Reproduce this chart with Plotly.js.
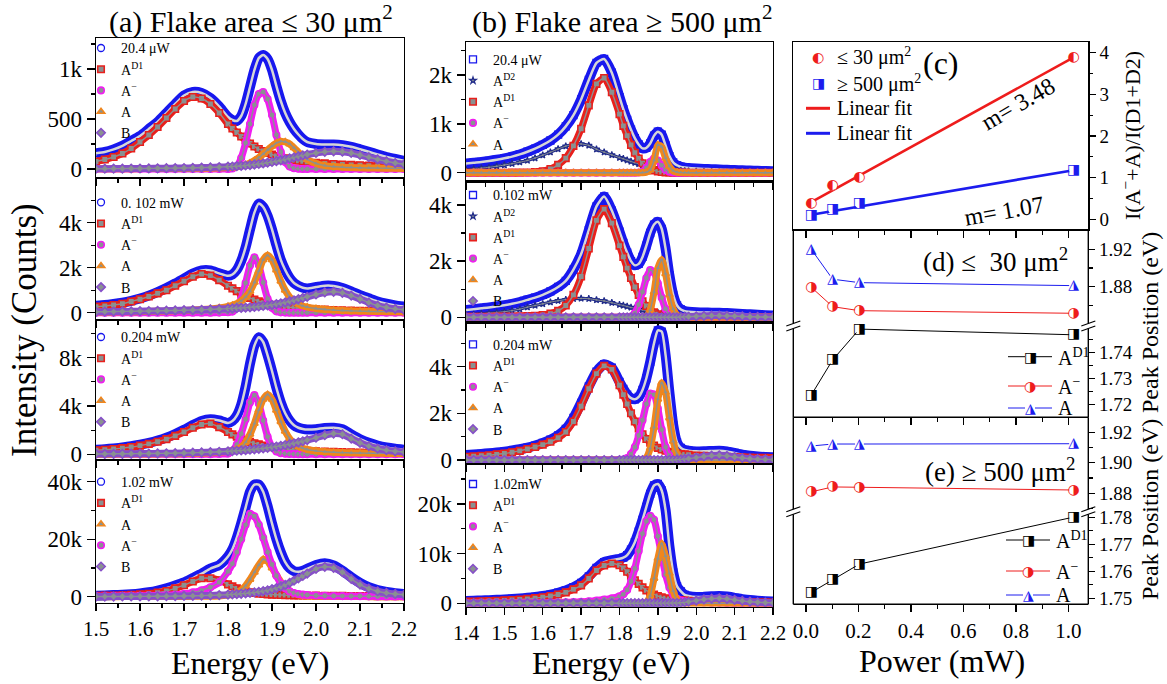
<!DOCTYPE html>
<html><head><meta charset="utf-8">
<script src="https://cdn.plot.ly/plotly-3.0.1.min.js"></script>
<style>html,body{margin:0;padding:0;background:#fff}</style>
</head><body>
<div id="chart" style="width:1167px;height:684px"></div>
<script>
// ---------------- DATA ----------------
// column (a) energy grid (eV)
const xa = [1.50,1.52,1.54,1.56,1.58,1.60,1.62,1.64,1.66,1.68,1.70,1.72,1.74,1.76,1.78,
 1.80,1.81,1.82,1.83,1.84,1.85,1.86,1.87,1.88,1.89,1.90,1.91,1.92,1.93,1.94,1.95,1.96,1.97,
 1.98,2.00,2.02,2.04,2.06,2.08,2.10,2.12,2.14,2.16,2.18,2.20];
// (a) 20.4 uW
const a1Total = [158,170,196,232,280,330,400,470,560,650,735,770,760,710,625,
 520,490,480,530,650,820,990,1110,1140,1100,990,830,680,560,470,400,345,300,
 270,250,245,245,238,222,198,172,145,120,100,82];
const a1AD1 = [75,95,120,155,205,270,340,420,510,600,680,720,705,650,560,
 450,405,365,325,290,255,225,200,180,160,145,130,118,108,98,90,83,77,
 72,63,56,50,45,41,37,34,31,29,27,25];
const a1Am = [0,0,0,0,0,0,0,0,0,0,0,0,0,0,0,
 0,5,30,110,260,450,640,750,770,700,540,340,170,70,25,8,2,0,
 0,0,0,0,0,0,0,0,0,0,0,0];
const a1A = [2,2,3,3,3,4,4,4,5,5,5,6,7,8,10,
 14,17,22,30,42,60,85,115,150,190,228,258,275,272,250,212,168,128,
 96,55,34,24,18,15,12,10,9,8,7,6];
const a1B = [3,3,4,4,5,5,6,7,8,9,10,12,14,16,19,
 23,25,28,31,35,39,44,50,56,63,70,78,87,96,106,116,126,136,
 145,160,172,177,173,160,140,118,96,77,60,47];
// (a) 0.102 mW
const a2Total = [310,340,390,450,530,630,760,920,1100,1300,1520,1740,1880,1880,1750,
 1640,1700,1900,2300,2900,3700,4450,4850,4700,4300,3700,3000,2350,1900,1550,1320,1190,1110,
 1080,1140,1200,1190,1100,950,780,640,500,400,320,270];
const a2AD1 = [270,300,345,400,500,600,720,860,1000,1200,1400,1600,1720,1650,1450,
 1200,1080,960,850,750,660,580,510,450,400,355,320,290,262,240,220,203,188,
 175,153,135,120,108,98,89,81,74,68,63,58];
const a2Am = [0,0,0,0,0,0,0,0,0,0,0,0,0,0,5,
 20,50,210,610,1320,2100,2460,2120,1340,620,220,60,15,4,0,0,0,0,
 0,0,0,0,0,0,0,0,0,0,0,0];
const a2A = [30,32,35,40,45,50,57,65,75,87,100,118,140,170,215,
 280,330,400,520,700,950,1350,1850,2350,2550,2350,1900,1400,1000,700,500,380,300,
 250,185,145,115,95,80,70,60,52,46,40,36];
const a2B = [40,45,50,55,60,67,74,82,90,100,110,120,132,146,162,
 180,190,200,212,225,240,257,276,298,323,350,382,418,458,502,550,602,655,
 708,810,900,930,880,760,610,450,320,230,170,130];
// (a) 0.204 mW
const a3Total = [370,420,490,570,670,800,950,1140,1380,1680,2030,2420,2760,2900,2800,
 2600,2750,3200,4100,5600,7500,9000,9700,9300,8200,6900,5500,4300,3400,2800,2400,2200,2100,
 2050,2080,2180,2200,2080,1650,1250,950,730,570,460,380];
const a3AD1 = [330,380,440,510,600,720,860,1040,1260,1530,1850,2200,2470,2540,2250,
 1850,1650,1460,1300,1160,1030,920,820,735,660,595,540,490,445,405,370,340,314,
 293,258,229,205,185,168,153,140,129,120,111,104];
const a3Am = [0,0,0,0,0,0,0,0,0,0,0,0,0,10,20,
 60,300,800,1700,2900,4300,4900,4200,2800,1450,620,240,95,45,25,15,10,8,
 6,5,4,3,3,2,2,2,1,1,1,1];
const a3A = [10,12,14,17,20,24,29,35,42,50,60,75,95,125,170,
 240,300,400,600,1000,1650,2550,3650,4550,4950,4550,3650,2700,1900,1300,900,650,500,
 400,280,215,170,140,120,105,92,82,73,66,60];
const a3B = [30,34,38,43,49,56,64,73,84,97,112,130,152,178,210,
 248,270,294,320,348,380,415,453,495,540,590,645,705,770,840,915,995,1080,
 1170,1370,1580,1720,1660,1300,950,680,480,340,250,190];
// (a) 1.02 mW
const a4Total = [350,450,560,700,880,1150,1550,2150,2950,3900,5000,6500,8000,9800,11000,
 14000,16500,20500,25500,31000,36500,39000,39000,36500,31500,25500,20000,15500,12000,9900,8900,8700,9000,
 9700,11000,11600,10900,9100,6800,4800,3300,2300,1650,1200,900];
const a4AD1 = [300,360,430,510,620,800,1050,1400,2000,2900,4000,5300,6400,6400,5700,
 4300,3600,2900,2350,1900,1550,1280,1080,930,820,730,660,600,550,510,475,445,420,
 398,360,328,300,277,257,239,223,209,197,186,176];
const a4A = [20,22,25,28,32,36,42,50,60,75,100,120,150,190,260,
 550,800,1300,2300,3800,6000,8500,11000,13000,12300,10000,7600,5200,3300,2000,1150,650,380,
 250,130,80,55,42,35,30,26,23,21,19,17];
const a4Am = [150,170,195,225,260,305,360,430,520,640,1000,1500,2200,3300,5000,
 8800,11500,15500,20000,25000,28800,28000,25000,20500,15500,11200,7300,4600,2900,1900,1300,950,720,
 580,410,310,245,200,165,140,120,105,92,82,73];
const a4B = [40,50,60,70,85,100,120,145,175,210,255,310,375,455,555,
 700,800,900,1020,1150,1300,1470,1680,1920,2220,2600,3000,3500,4100,4800,5600,6400,7200,
 8000,9700,10400,10000,8500,6200,4200,2800,1900,1300,950,700];

// column (b) energy grid (eV)
const xb = [1.40,1.42,1.44,1.46,1.48,1.50,1.52,1.54,1.56,1.58,1.60,1.62,1.64,1.66,1.68,1.70,1.72,1.74,1.76,1.78,1.80,
 1.81,1.82,1.83,1.84,1.85,1.86,1.87,1.88,1.89,1.90,1.91,1.92,1.93,1.94,1.95,1.96,1.97,
 1.98,2.00,2.02,2.04,2.06,2.08,2.10,2.12,2.14,2.16,2.18,2.20];
// (b) 20.4 uW
const b1Total = [190,205,220,240,265,295,330,375,430,495,570,660,780,950,1180,1500,1900,2250,2330,2050,1550,
 1300,1080,880,710,580,500,510,600,760,840,780,560,340,210,150,120,105,
 95,85,78,72,66,60,55,50,45,40,35,30];
const b1AD2 = [60,75,92,110,132,157,185,215,250,300,360,420,485,545,585,590,560,480,420,365,310,
 285,255,230,205,180,158,138,120,104,90,78,68,59,51,45,40,35,
 31,25,20,16,13,11,9,8,7,6,5,5];
const b1AD1 = [0,0,0,0,0,0,1,2,5,12,30,75,160,300,550,900,1380,1820,1940,1650,1200,
 960,760,570,410,290,195,125,80,48,28,15,8,4,2,1,0,0,
 0,0,0,0,0,0,0,0,0,0,0,0];
const b1Am = [0,0,0,0,0,0,0,0,0,0,0,0,0,0,0,0,0,0,0,0,0,
 0,0,0,0,5,20,100,220,290,250,150,60,20,5,0,0,0,
 0,0,0,0,0,0,0,0,0,0,0,0];
const b1A = [0,0,0,0,0,0,0,0,0,0,0,0,0,0,0,0,0,0,0,0,0,
 0,0,0,0,0,0,10,60,250,570,530,300,130,40,10,2,0,
 0,0,0,0,0,0,0,0,0,0,0,0];
// (b) 0.102 mW
const b2Total = [260,290,320,350,390,430,480,540,620,700,800,920,1080,1300,1700,2250,3100,3950,4300,3800,3050,
 2650,2300,2000,1850,1900,2150,2550,3000,3300,3400,3150,2450,1500,800,420,280,220,
 200,180,170,165,160,150,135,120,105,90,75,60];
const b2AD2 = [80,100,125,150,175,200,240,290,360,420,480,540,590,630,660,670,660,620,580,520,450,
 420,385,350,320,290,260,235,210,185,165,145,128,112,98,85,74,64,
 56,42,32,25,20,16,13,11,9,8,7,6];
const b2AD1 = [15,17,19,21,24,27,31,36,43,55,80,130,230,420,800,1450,2450,3450,3850,3350,2550,
 2150,1750,1400,1080,800,570,400,270,175,110,65,38,20,10,5,2,0,
 0,0,0,0,0,0,0,0,0,0,0,0];
const b2Am = [0,0,0,0,0,0,0,0,0,0,0,0,0,0,0,0,0,0,0,0,0,
 0,10,30,150,450,900,1400,1680,1600,1200,700,300,100,30,8,0,0,
 0,0,0,0,0,0,0,0,0,0,0,0];
const b2A = [0,0,0,0,0,0,0,0,0,0,0,0,0,0,0,0,0,0,0,0,0,
 0,0,0,0,0,5,30,250,900,1750,2050,1550,800,300,80,20,5,
 0,0,0,0,0,0,0,0,0,0,0,0];
const b2B = [0,0,0,0,0,0,0,0,0,0,0,0,0,0,0,0,0,0,0,0,0,
 0,0,0,0,0,0,0,0,0,0,0,0,0,0,0,10,15,
 20,35,50,60,60,50,40,30,20,15,10,8];
// (b) 0.204 mW
const b3Total = [210,235,260,290,320,360,405,460,530,620,730,870,1050,1330,1800,2450,3150,3780,4100,3950,3350,
 3050,2800,2650,2600,2700,3000,3500,4200,5000,5550,5500,4500,2900,1500,750,520,430,
 400,370,370,385,400,370,300,230,180,150,130,115];
const b3AD1 = [140,160,180,205,240,280,330,390,470,560,660,780,950,1200,1650,2300,3050,3700,4030,3880,3200,
 2800,2400,2000,1650,1350,1100,900,740,620,520,450,395,350,315,285,260,240,
 222,195,175,158,144,132,122,113,105,98,92,86];
const b3Am = [0,0,0,0,0,0,0,0,0,0,0,0,0,0,0,0,0,0,0,0,5,
 20,80,250,550,1050,1700,2400,2850,2800,2200,1300,550,180,50,10,0,0,
 0,0,0,0,0,0,0,0,0,0,0,0];
const b3A = [0,0,0,0,0,0,0,0,0,0,0,0,0,0,0,0,0,0,0,0,0,
 0,0,0,0,0,20,100,500,1400,2600,3300,2900,1800,800,250,60,15,
 5,0,0,0,0,0,0,0,0,0,0,0];
const b3B = [0,0,0,0,0,0,0,0,0,0,0,0,0,0,0,0,0,0,0,0,0,
 0,0,0,0,0,0,0,0,0,0,0,0,0,0,15,25,40,
 60,100,150,185,200,175,130,85,55,35,25,18];
// (b) 1.02 mW
const b4Total = [470,520,570,630,700,780,870,980,1110,1280,1490,1760,2120,2600,3250,4100,5400,7100,8300,8700,8950,
 9200,9700,10800,12300,14400,16800,19400,22000,23700,24000,22700,18800,11500,6200,3400,2400,1700,
 1450,1250,1300,1400,1450,1350,1100,850,650,520,420,350];
const b4AD1 = [330,370,410,460,520,590,670,770,890,1040,1230,1470,1780,2200,2800,3600,5000,6600,7600,8000,7650,
 7100,6350,5500,4650,3900,3200,2600,2150,1780,1470,1220,1020,870,760,670,600,540,
 490,420,370,330,296,268,244,224,206,191,178,166];
const b4Am = [30,35,40,46,53,61,70,80,92,106,122,142,166,196,233,280,400,550,750,1000,1400,
 1800,2700,4400,7000,10500,14000,16500,17600,16800,13500,9500,5800,3200,1700,900,560,400,
 320,220,160,120,95,75,60,50,42,36,31,27];
const b4A = [0,0,0,0,0,0,0,0,0,0,0,0,0,0,0,0,0,0,0,0,0,
 0,0,0,0,0,20,200,1500,5000,9000,12000,9500,6000,2500,700,150,30,
 0,0,0,0,0,0,0,0,0,0,0,0];
const b4B = [20,20,20,20,20,20,20,20,20,20,20,20,20,20,20,20,20,20,20,20,20,
 20,20,20,20,20,22,24,26,28,30,35,40,45,50,60,100,180,
 300,550,800,950,1000,900,700,480,320,210,140,100];

// column (c)-(e)
const powerMW = [0.0204, 0.102, 0.204, 1.02];
const ratioSmall = [0.38, 0.80, 1.01, 3.89];
const ratioLarge = [0.09, 0.24, 0.37, 1.18];
const fitX = [0.0204, 1.02];
const fitSmall = [0.41, 3.89];
const fitLarge = [0.11, 1.18];
const dA = [1.920, 1.888, 1.8843, 1.8811];
const dAm = [1.8794, 1.8586, 1.8543, 1.8515];
const dAD1 = [1.7236, 1.7372, 1.7491, 1.7469];
const eA = [1.9110, 1.9123, 1.9123, 1.9125];
const eAm = [1.8810, 1.8842, 1.8840, 1.8822];
const eAD1 = [1.7522, 1.7568, 1.7627, 1.7801];

// ---------------- LAYOUT HELPERS ----------------
const W = 1167, H = 684;
const PX = p => p / W, PY = p => 1 - p / H;
const SERIF = '"Liberation Serif", "Times New Roman", serif';
const GLYPH = '"DejaVu Sans", sans-serif';
const C = {data:'#1818ee', ad1:'#e8201c', am:'#f01ef0', a:'#f0861c', b:'#8650c8', ad2:'#1f2a8a',
           center:'#8a9191', fit:'#d6d6d6', red:'#ee1c1c', blue:'#1c1cee'};
const SYM = {ad1:'square', am:'circle', a:'triangle-up', b:'diamond', ad2:'star'};
const BAND = {ad1:7, am:7, a:7, b:7, ad2:3};
const MSIZE = {ad1:6.5, am:6.5, a:6.5, b:6.5, ad2:5};

const traces = [];
const layout = {
  width: W, height: H, margin:{l:0,r:0,t:0,b:0}, autosize:false,
  paper_bgcolor:'#fff', plot_bgcolor:'rgba(0,0,0,0)',
  font:{family:SERIF, color:'#000'}, showlegend:true,
  annotations:[], shapes:[]
};
const an = (i) => i === 1 ? '' : String(i);

function addData(i, x, y, name, symbol, leg) {
  const xa_ = 'x' + an(i), ya_ = 'y' + an(i);
  traces.push({type:'scatter', x, y, xaxis:xa_, yaxis:ya_, mode:'lines',
    line:{color:C.data, width:10, shape:'spline', smoothing:0.6}, showlegend:false, hoverinfo:'skip'});
  traces.push({type:'scatter', x, y, xaxis:xa_, yaxis:ya_, mode:'markers',
    marker:{symbol, size:7, color:C.data, line:{color:C.data, width:1.3}}, name, legend:leg, hoverinfo:'skip'});
  traces.push({type:'scatter', x, y, xaxis:xa_, yaxis:ya_, mode:'lines',
    line:{color:C.fit, width:2.5, shape:'spline', smoothing:0.6}, showlegend:false, hoverinfo:'skip'});
}
function addComp(i, x, y, name, key, leg) {
  const xa_ = 'x' + an(i), ya_ = 'y' + an(i);
  const col = C[key];
  traces.push({type:'scatter', x, y, xaxis:xa_, yaxis:ya_, mode:'lines',
    line:{color:col, width:BAND[key], shape:'spline', smoothing:0.6}, showlegend:false, hoverinfo:'skip'});
  traces.push({type:'scatter', x, y, xaxis:xa_, yaxis:ya_, mode:'markers',
    marker:{symbol:SYM[key], size:MSIZE[key], color:C.center, line:{color:col, width:key === 'ad2' ? 1.2 : 1.6}}, name, legend:leg, hoverinfo:'skip'});
  traces.push({type:'scatter', x, y, xaxis:xa_, yaxis:ya_, mode:'lines',
    line:{color:C.center, width:key === 'ad2' ? 1 : 1.4, shape:'spline', smoothing:0.6}, showlegend:false, hoverinfo:'skip'});
}

const colA = [96, 404], colB = [466, 773], colC = [793.3, 1088.3];
const panels = [
 {i:1, x:xa, col:colA, top:38, bot:178, yr:[-90,1310], dt:500, mdt:250, xr:[1.5,2.2], lab:false, leg:'legend', lx:81, ly:48, sym:'circle-open',
  data:['20.4 μW', a1Total], comps:[['A<sup>D1</sup>',a1AD1,'ad1'],['A<sup>−</sup>',a1Am,'am'],['A',a1A,'a'],['B',a1B,'b']]},
 {i:2, x:xa, col:colA, top:178, bot:320, yr:[-324,5987], dt:2000, mdt:1000, xr:[1.5,2.2], lab:false, leg:'legend2', lx:81, ly:202.3, sym:'circle-open',
  data:['0. 102 mW', a2Total], comps:[['A<sup>D1</sup>',a2AD1,'ad1'],['A<sup>−</sup>',a2Am,'am'],['A',a2A,'a'],['B',a2B,'b']]},
 {i:3, x:xa, col:colA, top:320, bot:460, yr:[-472,11122], dt:4000, mdt:2000, xr:[1.5,2.2], lab:false, leg:'legend3', lx:81, ly:337, sym:'circle-open',
  data:['0.204 mW', a3Total], comps:[['A<sup>D1</sup>',a3AD1,'ad1'],['A<sup>−</sup>',a3Am,'am'],['A',a3A,'a'],['B',a3B,'b']]},
 {i:4, x:xa, col:colA, top:460, bot:602.7, yr:[-2087,47548], dt:20000, mdt:10000, xr:[1.5,2.2], lab:true, leg:'legend4', lx:81, ly:481.7, sym:'circle-open',
  data:['1.02 mW', a4Total], comps:[['A<sup>D1</sup>',a4AD1,'ad1'],['A',a4A,'a'],['A<sup>−</sup>',a4Am,'am'],['B',a4B,'b']]},
 {i:5, x:xb, col:colB, top:42.3, bot:181.7, yr:[-184,2672], dt:1000, mdt:500, xr:[1.4,2.2], lab:false, leg:'legend5', lx:453, ly:59.3, sym:'square-open',
  data:['20.4 μW', b1Total], comps:[['A<sup>D2</sup>',b1AD2,'ad2'],['A<sup>D1</sup>',b1AD1,'ad1'],['A<sup>−</sup>',b1Am,'am'],['A',b1A,'a']]},
 {i:6, x:xb, col:colB, top:181.7, bot:322.7, yr:[-192,4826], dt:2000, mdt:1000, xr:[1.4,2.2], lab:false, leg:'legend6', lx:453, ly:195, sym:'square-open',
  data:['0.102 mW', b2Total], comps:[['A<sup>D2</sup>',b2AD2,'ad2'],['A<sup>D1</sup>',b2AD1,'ad1'],['A<sup>−</sup>',b2Am,'am'],['A',b2A,'a'],['B',b2B,'b']]},
 {i:7, x:xb, col:colB, top:322.7, bot:464, yr:[-171,5880], dt:2000, mdt:1000, xr:[1.4,2.2], lab:false, leg:'legend7', lx:453, ly:344.3, sym:'square-open',
  data:['0.204 mW', b3Total], comps:[['A<sup>D1</sup>',b3AD1,'ad1'],['A<sup>−</sup>',b3Am,'am'],['A',b3A,'a'],['B',b3B,'b']]},
 {i:8, x:xb, col:colB, top:464, bot:606.7, yr:[-684,28028], dt:10000, mdt:5000, xr:[1.4,2.2], lab:true, leg:'legend8', lx:453, ly:484, sym:'square-open',
  data:['1.02mW', b4Total], comps:[['A<sup>D1</sup>',b4AD1,'ad1'],['A<sup>−</sup>',b4Am,'am'],['A',b4A,'a'],['B',b4B,'b']]}
];

const tickBase = {ticks:'outside', tickwidth:1.3, tickcolor:'#000', showgrid:false, zeroline:false,
  showline:true, linecolor:'#000', linewidth:1.4, mirror:true, fixedrange:true};

panels.forEach(p => {
  layout['xaxis' + an(p.i)] = Object.assign({}, tickBase, {
    domain:[PX(p.col[0]), PX(p.col[1])], range:p.xr, anchor:'y' + an(p.i),
    tickmode:'linear', tick0:p.xr[0], dtick:0.1, ticklen:7,
    minor:{tickmode:'linear', tick0:p.xr[0], dtick:0.05, ticks:'outside', ticklen:4, tickwidth:1.2, tickcolor:'#000'},
    showticklabels:p.lab, tickformat:'.1f', tickfont:{family:SERIF, size:21, color:'#000'}
  });
  layout['yaxis' + an(p.i)] = Object.assign({}, tickBase, {
    domain:[PY(p.bot), PY(p.top)], range:p.yr, anchor:'x' + an(p.i),
    tickmode:'linear', tick0:0, dtick:p.dt, ticklen:8,
    minor:{tickmode:'linear', tick0:0, dtick:p.mdt, ticks:'outside', ticklen:4, tickwidth:1.2, tickcolor:'#000'},
    tickformat:'~s', tickfont:{family:SERIF, size:23, color:'#000'}
  });
  layout[p.leg] = {x:PX(p.lx), y:PY(p.ly - 15.6), xanchor:'left', yanchor:'top',
    bgcolor:'rgba(0,0,0,0)', borderwidth:0, itemwidth:30, tracegroupgap:0,
    font:{family:SERIF, size:14, color:'#000'}, itemclick:false, itemdoubleclick:false};
  addData(p.i, p.x, p.data[1], p.data[0], p.sym, p.leg);
  p.comps.forEach(c => addComp(p.i, p.x, c[1], c[0], c[2], p.leg));
});

// ---- column (c)-(e) axes ----
const cxr = [-0.048, 1.076];
const xc = (i, opts) => Object.assign({}, tickBase, {
  domain:[PX(colC[0]), PX(colC[1])], range:cxr, anchor:'y'+i,
  tickmode:'linear', tick0:0, dtick:0.2, ticklen:7,
  minor:{tickmode:'linear', tick0:0, dtick:0.1, ticks:'outside', ticklen:4, tickwidth:1.2, tickcolor:'#000'},
  showticklabels:false, tickformat:'.1f', tickfont:{family:SERIF, size:21, color:'#000'}
}, opts);
const yc = (i, top, bot, range, tv, mv, opts) => Object.assign({}, tickBase, {
  domain:[PY(bot), PY(top)], range, anchor:'x'+i, side:'right',
  tickmode:'array', tickvals:tv, ticktext:tv.map(v => v.toFixed(2)), ticklen:6,
  minor:{tickmode:'array', tickvals:mv, ticks:'outside', ticklen:3.5, tickwidth:1.2, tickcolor:'#000'},
  tickfont:{family:SERIF, size:19, color:'#000'}, showline:false, mirror:false
}, opts);

layout.xaxis9 = xc(9, {});
layout.yaxis9 = Object.assign({}, tickBase, {
  domain:[PY(229.3), PY(42.3)], range:[-0.24, 4.25], anchor:'x9', side:'right',
  tickmode:'linear', tick0:0, dtick:1, ticklen:6,
  minor:{tickmode:'linear', tick0:0, dtick:0.5, ticks:'outside', ticklen:3.5, tickwidth:1.2, tickcolor:'#000'},
  tickfont:{family:SERIF, size:19, color:'#000'}
});
layout.xaxis10 = xc(10, {visible:false});
layout.yaxis10 = yc(10, 229.3, 326, [1.8379, 1.9414], [1.88, 1.92], [1.86, 1.90]);
layout.xaxis11 = xc(11, {showline:false, mirror:false});
layout.yaxis11 = yc(11, 326, 417.3, [1.715, 1.7503], [1.72, 1.73, 1.74], [1.725, 1.735, 1.745]);
layout.xaxis12 = xc(12, {visible:false});
layout.yaxis12 = yc(12, 417.3, 511.7, [1.868, 1.9298], [1.88, 1.90, 1.92], [1.87, 1.89, 1.91]);
layout.xaxis13 = xc(13, {showline:false, mirror:false, showticklabels:true});
layout.yaxis13 = yc(13, 511.7, 604.3, [1.7478, 1.7821], [1.75, 1.76, 1.77, 1.78], [1.755, 1.765, 1.775]);

// ---- (c) traces ----
traces.push({type:'scatter', x:fitX, y:fitSmall, xaxis:'x9', yaxis:'y9', mode:'lines', line:{color:C.red, width:2.6}, showlegend:false, hoverinfo:'skip'});
traces.push({type:'scatter', x:fitX, y:fitLarge, xaxis:'x9', yaxis:'y9', mode:'lines', line:{color:C.blue, width:2.6}, showlegend:false, hoverinfo:'skip'});
function glyphPts(xaxis, yaxis, x, y, glyph, color, lineW) {
  traces.push({type:'scatter', x, y, xaxis, yaxis, mode: lineW ? 'lines+markers+text' : 'markers+text',
    line:{color, width:lineW || 0}, marker:{size:9, color:'#fff', line:{width:0}},
    text:x.map(() => glyph), textposition:'middle center',
    textfont:{family:GLYPH, size:14, color}, cliponaxis:false, showlegend:false, hoverinfo:'skip'});
}
glyphPts('x9','y9', powerMW, ratioSmall, '◐', C.red, 0);
glyphPts('x9','y9', powerMW, ratioLarge, '◨', C.blue, 0);
// ---- (d) ----
glyphPts('x10','y10', powerMW, dA, '◮', C.blue, 1);
glyphPts('x10','y10', powerMW, dAm, '◑', C.red, 1);
glyphPts('x11','y11', powerMW, dAD1, '◨', '#000', 1);
// ---- (e) ----
glyphPts('x12','y12', powerMW, eA, '◮', C.blue, 1);
glyphPts('x12','y12', powerMW, eAm, '◑', C.red, 1);
glyphPts('x13','y13', powerMW, eAD1, '◨', '#000', 1);

// ---- shapes ----
function seg(x0, y0, x1, y1, color, width) {
  layout.shapes.push({type:'line', xref:'paper', yref:'paper', x0:PX(x0), y0:PY(y0), x1:PX(x1), y1:PY(y1), line:{color, width}});
}
const cl = colC[0], cr = colC[1];
seg(cl, 417.3, cr, 417.3, '#000', 1.4);
seg(cl, 604.3, cr, 604.3, '#000', 1.4);
[[229.3, 326, 417.3], [417.3, 511.7, 604.3]].forEach(([top, brk, bot]) => {
  [cl, cr].forEach(x => {
    seg(x, top, x, brk - 2.5, '#000', 1.4);
    seg(x, brk + 2.5, x, bot, '#000', 1.4);
    seg(x - 7, brk, x + 7, brk - 5, '#000', 1.2);
    seg(x - 7, brk + 5, x + 7, brk, '#000', 1.2);
  });
});

// ---- annotations ----
function ann(x, y, text, size, opts) {
  layout.annotations.push(Object.assign({xref:'paper', yref:'paper', x:PX(x), y:PY(y), text, showarrow:false,
    font:{family:SERIF, size, color:'#000'}, xanchor:'center', yanchor:'middle'}, opts || {}));
}
ann(251, 19, '(a) Flake area ≤ 30 μm<sup>2</sup>', 30);
ann(622, 19, '(b) Flake area ≥ 500 μm<sup>2</sup>', 30);
ann(25, 330, 'Intensity (Counts)', 35, {textangle:-90});
ann(250, 663, 'Energy (eV)', 32);
ann(611, 663, 'Energy (eV)', 32);
ann(942, 661, 'Power (mW)', 32);
ann(1131, 136, 'I(A<sup>−</sup>+A)/I(D1+D2)', 22, {textangle:-90});
ann(1150, 323, 'Peak Position (eV)', 24, {textangle:-90});
ann(1150, 510, 'Peak Position (eV)', 24, {textangle:-90});
ann(941, 63, '(c)', 32);
ann(1018, 104, 'm= 3.48', 24, {textangle:-30});
ann(1004, 211, 'm= 1.07', 24, {textangle:-10});
ann(1070, 260, '(d) ≤  30 μm<sup>2</sup>', 27, {xanchor:'right'});
ann(1077, 470, '(e) ≥ 500 μm<sup>2</sup>', 27, {xanchor:'right'});

// (c) legend
const glyphAnn = (x, y, g, color) => ann(x, y, g, 14, {font:{family:GLYPH, size:14, color}});
glyphAnn(818, 56.7, '◐', C.red);
ann(835, 56.7, '≤ 30 μm<sup>2</sup>', 20, {xanchor:'left'});
glyphAnn(818, 83.3, '◨', C.blue);
ann(835, 83.3, '≥ 500 μm<sup>2</sup>', 20, {xanchor:'left'});
seg(806, 108.3, 830, 108.3, C.red, 3);
ann(835, 108.3, 'Linear fit', 20, {xanchor:'left'});
seg(806, 133.3, 830, 133.3, C.blue, 3);
ann(835, 133.3, 'Linear fit', 20, {xanchor:'left'});

// (d),(e) legends
function peakLegend(x0, x1, rows) {
  const xm = (x0 + x1) / 2;
  rows.forEach(([y, color, g, label]) => {
    seg(x0, y, xm - 5, y, color, 1);
    seg(xm + 5, y, x1, y, color, 1);
    glyphAnn(xm, y, g, color);
    ann(x1 + 4, y, label, 20, {xanchor:'left'});
  });
}
peakLegend(1008, 1052, [[356.7, '#000', '◨', 'A<sup>D1</sup>'], [386, C.red, '◑', 'A<sup>−</sup>'], [408, C.blue, '◮', 'A']]);
peakLegend(1006, 1050, [[540, '#000', '◨', 'A<sup>D1</sup>'], [571, C.red, '◑', 'A<sup>−</sup>'], [595, C.blue, '◮', 'A']]);

Plotly.newPlot('chart', traces, layout, {displayModeBar:false, staticPlot:true});
</script>
</body></html>
